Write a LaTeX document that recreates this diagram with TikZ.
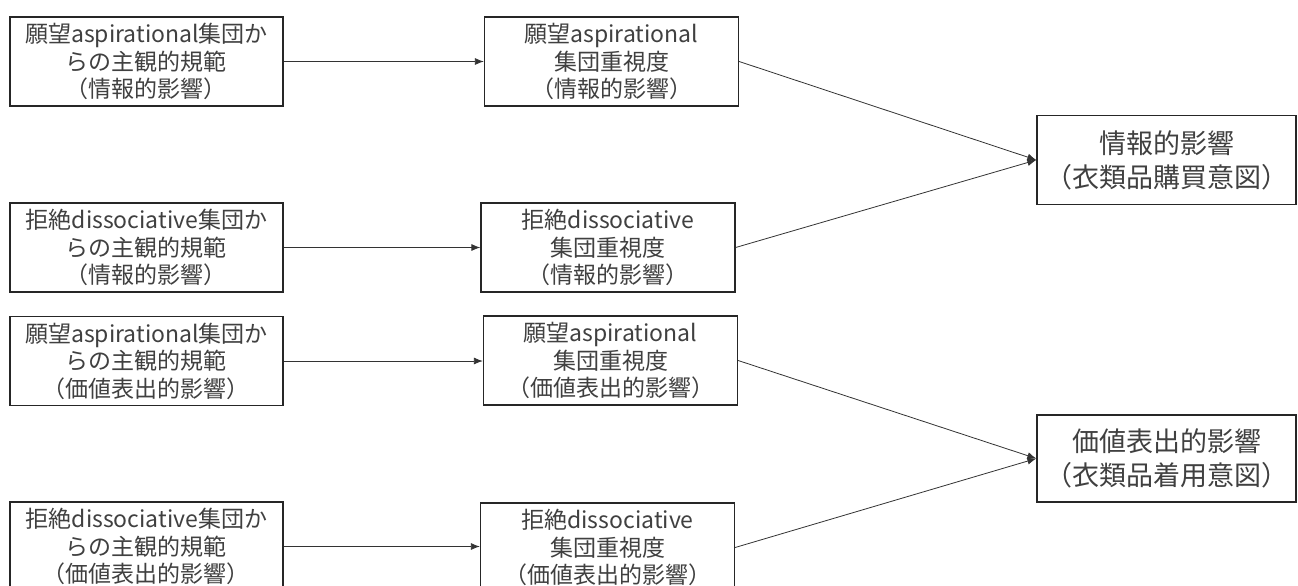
\documentclass[tikz,border=0pt]{standalone}
\usepackage{fontspec}
\setmainfont{Noto Sans CJK JP}
\usetikzlibrary{arrows.meta}
\begin{document}
\begin{tikzpicture}[x=1pt,y=-1pt,
  box/.style={draw=black!85,line width=1.3pt,rectangle,align=center,inner sep=0pt,
    text=black!75,font=\fontsize{23}{27.5}\selectfont},
  lbox/.style={box,minimum width=273pt,minimum height=89pt},
  mbox/.style={box,minimum width=254pt,minimum height=89pt},
  rbox/.style={box,minimum width=259pt,minimum height=89pt,font=\fontsize{27}{34}\selectfont},
  conn/.style={draw=black!80,line width=0.8pt,-{Latex[length=9pt,width=7pt]}}]
\useasboundingbox (0,0) rectangle (1298,586);
\clip (0,0) rectangle (1298,586);
\fill[white] (0,0) rectangle (1298,586);
\node[lbox] (L1) at (146.5,61.5) {願望aspirational集団か\\らの主観的規範\\（情報的影響）};
\node[lbox] (L2) at (146.5,247.5) {拒絶dissociative集団か\\らの主観的規範\\（情報的影響）};
\node[lbox] (L3) at (146.5,361) {願望aspirational集団か\\らの主観的規範\\（価値表出的影響）};
\node[lbox] (L4) at (146.5,546.5) {拒絶dissociative集団か\\らの主観的規範\\（価値表出的影響）};
\node[mbox] (M1) at (611.5,61.5) {願望aspirational\\集団重視度\\（情報的影響）};
\node[mbox] (M2) at (608,247.5) {拒絶dissociative\\集団重視度\\（情報的影響）};
\node[mbox] (M3) at (610.5,360.5) {願望aspirational\\集団重視度\\（価値表出的影響）};
\node[mbox] (M4) at (607.5,547.5) {拒絶dissociative\\集団重視度\\（価値表出的影響）};
\node[rbox] (R1) at (1166.5,160) {情報的影響\\（衣類品購買意図）};
\node[rbox,minimum height=87pt] (R2) at (1166.5,458.5) {価値表出的影響\\（衣類品着用意図）};
\draw[conn] (L1.east) -- (L1.east -| M1.west);
\draw[conn] (L2.east) -- (L2.east -| M2.west);
\draw[conn] (L3.east) -- (L3.east -| M3.west);
\draw[conn] (L4.east) -- (L4.east -| M4.west);
\draw[conn] (M1.east) -- (R1.west);
\draw[conn] (M2.east) -- (R1.west);
\draw[conn] (M3.east) -- (R2.west);
\draw[conn] (M4.east) -- (R2.west);
\end{tikzpicture}
\end{document}
